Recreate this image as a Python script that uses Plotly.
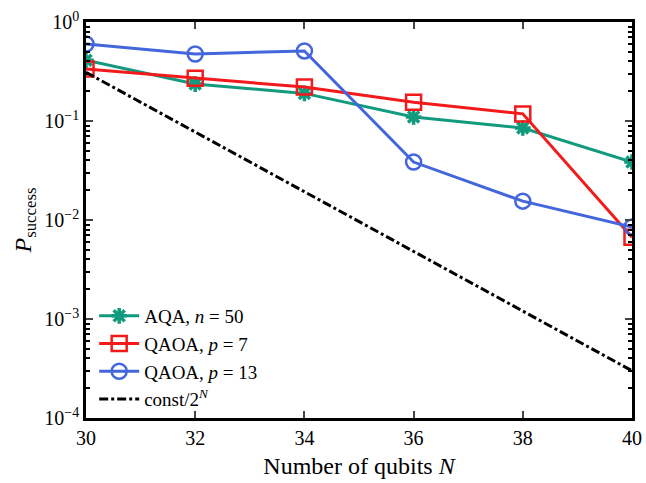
import plotly.graph_objects as go

N = [30, 32, 34, 36, 38, 40]
aqa = [0.41, 0.236, 0.19, 0.11, 0.085, 0.0385]
qaoa7 = [0.335, 0.27, 0.22, 0.155, 0.118, 0.0067]
qaoa13 = [0.60, 0.475, 0.51, 0.0385, 0.0155, 0.0085]
const_N = [30, 40]
const_vals = [0.31, 0.0003]

y_tickvals = [1e-4, 1e-3, 1e-2, 1e-1, 1e0]
y_ticktext = ["10<sup>−4</sup>", "10<sup>−3</sup>", "10<sup>−2</sup>", "10<sup>−1</sup>", "10<sup>0</sup>"]
x_tickvals = [30, 32, 34, 36, 38, 40]

minor_vals = [m * 10.0 ** e for e in range(-4, 0) for m in range(2, 10)]

FONT = "Liberation Serif"

fig = go.Figure()
fig.add_trace(go.Scatter(
    x=N, y=aqa, mode="lines+markers", name="AQA, <i>n</i> = 50",
    line=dict(color="#119a7d", width=3),
    marker=dict(symbol="asterisk-open", size=13, line=dict(color="#119a7d", width=3.5)),
))
fig.add_trace(go.Scatter(
    x=N, y=qaoa7, mode="lines+markers", name="QAOA, <i>p</i> = 7",
    line=dict(color="#f21a1a", width=3),
    marker=dict(symbol="square-open", size=15, color="#f21a1a", line=dict(color="#f21a1a", width=2.5)),
))
fig.add_trace(go.Scatter(
    x=N, y=qaoa13, mode="lines+markers", name="QAOA, <i>p</i> = 13",
    line=dict(color="#4466dd", width=3),
    marker=dict(symbol="circle-open", size=15, color="#4466dd", line=dict(color="#4466dd", width=2.5)),
))
fig.add_trace(go.Scatter(
    x=const_N, y=const_vals, mode="lines", name="const/2<sup><i>N</i></sup>",
    line=dict(color="black", width=3, dash="dashdot"),
))

fig.update_layout(
    width=646, height=483,
    margin=dict(l=86, r=14, t=22, b=65),
    paper_bgcolor="white", plot_bgcolor="white",
    font=dict(family=FONT, size=20, color="black"),
    showlegend=True,
    legend=dict(x=0.015, y=0.0, xanchor="left", yanchor="bottom",
                bgcolor="rgba(255,255,255,0)", font=dict(size=19),
                tracegroupgap=0, itemwidth=40),
)
fig.update_xaxes(
    range=[30, 40], tickvals=x_tickvals, ticks="inside", ticklen=7, tickwidth=2,
    showline=True, linewidth=2.5, linecolor="black", mirror="ticks",
    showgrid=False, zeroline=False, automargin=False,
    title=dict(text="Number of qubits <i>N</i>", standoff=10),
)
fig.update_yaxes(
    type="log", range=[-4, 0], tickvals=y_tickvals, ticktext=y_ticktext,
    ticks="inside", ticklen=7, tickwidth=2,
    minor=dict(tickvals=minor_vals, ticks="inside", ticklen=4, tickwidth=1.5, tickcolor="black"),
    showline=True, linewidth=2.5, linecolor="black", mirror="ticks",
    showgrid=False, zeroline=False, automargin=False,
    title=dict(text="<i>P</i><sub>success</sub>", standoff=6),
)

fig.write_html("out.html", config={"displayModeBar": False},
               post_script="document.body.style.margin='0';document.body.style.overflow='hidden';")
